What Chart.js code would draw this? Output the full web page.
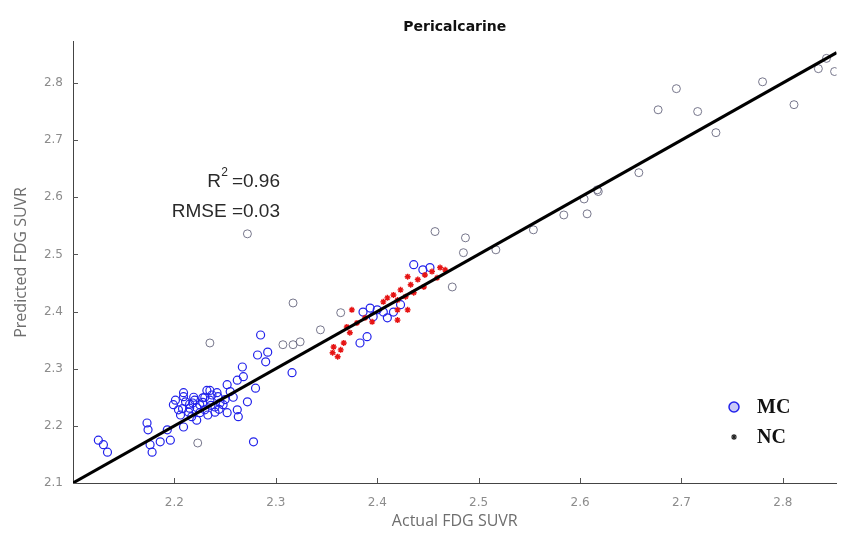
<!DOCTYPE html>
<html>
<head>
<meta charset="utf-8">
<title>Pericalcarine</title>
<script src="https://cdn.jsdelivr.net/npm/chart.js@4/dist/chart.umd.min.js"></script>
<style>
  html, body { margin: 0; padding: 0; background: #fff; }
  #wrap { width: 842px; height: 541px; }
</style>
</head>
<body>
<div id="wrap"><canvas id="scatter"></canvas></div>
<script>
// MC subjects, lower range (blue circles)
const mcActual = [
  2.125, 2.130, 2.134, 2.173, 2.174, 2.176, 2.178, 2.186, 2.193, 2.196,
  2.209, 2.222, 2.209, 2.209, 2.199, 2.204, 2.211, 2.215, 2.220, 2.225,
  2.230, 2.235, 2.240, 2.245, 2.206, 2.214, 2.217, 2.225, 2.233, 2.240,
  2.201, 2.228, 2.237, 2.243, 2.248, 2.252, 2.272, 2.262, 2.263, 2.278,
  2.252, 2.280, 2.262, 2.268, 2.267, 2.290, 2.292, 2.282, 2.285, 2.316,
  2.393, 2.400, 2.406, 2.386, 2.396, 2.416, 2.436, 2.445, 2.452, 2.423,
  2.410, 2.390, 2.383, 2.258, 2.255, 2.235, 2.218, 2.230, 2.215, 2.222,
  2.228, 2.236, 2.244, 2.250, 2.208, 2.219, 2.232, 2.242
];
const mcPredicted = [
  2.175, 2.167, 2.154, 2.205, 2.193, 2.167, 2.154, 2.172, 2.193, 2.175,
  2.198, 2.210, 2.258, 2.251, 2.237, 2.228, 2.242, 2.231, 2.245, 2.237,
  2.228, 2.245, 2.233, 2.240, 2.219, 2.224, 2.216, 2.223, 2.219, 2.224,
  2.245, 2.249, 2.254, 2.251, 2.237, 2.223, 2.242, 2.228, 2.216, 2.172,
  2.272, 2.266, 2.280, 2.286, 2.303, 2.312, 2.329, 2.324, 2.359, 2.293,
  2.406, 2.403, 2.399, 2.399, 2.391, 2.399, 2.482, 2.473, 2.477, 2.412,
  2.389, 2.356, 2.345, 2.250, 2.260, 2.262, 2.240, 2.250, 2.238, 2.232,
  2.241, 2.236, 2.229, 2.246, 2.230, 2.250, 2.262, 2.258
];

// remaining subjects (grey circles, mostly the upper range)
const otherActual = [
  2.235, 2.223, 2.272, 2.307, 2.317, 2.317, 2.324, 2.344, 2.364, 2.457,
  2.474, 2.485, 2.487, 2.517, 2.554, 2.584, 2.604, 2.618, 2.607, 2.617,
  2.658, 2.677, 2.695, 2.716, 2.734, 2.780, 2.811, 2.835, 2.843, 2.851
];
const otherPredicted = [
  2.345, 2.170, 2.536, 2.342, 2.342, 2.415, 2.347, 2.368, 2.398, 2.540,
  2.443, 2.503, 2.529, 2.508, 2.543, 2.569, 2.597, 2.610, 2.571, 2.613,
  2.643, 2.753, 2.790, 2.750, 2.713, 2.802, 2.762, 2.825, 2.843, 2.820
];

// NC subjects (red stars)
const ncActual = [
  2.430, 2.440, 2.433, 2.423, 2.416, 2.410, 2.406, 2.446, 2.436, 2.428,
  2.420, 2.375, 2.420, 2.430, 2.420, 2.357, 2.364, 2.356, 2.361, 2.367,
  2.370, 2.380, 2.373, 2.447, 2.454, 2.462, 2.467, 2.459, 2.388, 2.395
];
const ncPredicted = [
  2.461, 2.456, 2.447, 2.438, 2.429, 2.424, 2.417, 2.443, 2.433, 2.426,
  2.420, 2.403, 2.403, 2.403, 2.385, 2.338, 2.333, 2.328, 2.321, 2.345,
  2.373, 2.380, 2.363, 2.464, 2.470, 2.477, 2.473, 2.459, 2.389, 2.382
];

// identity / fit line end points
const fitX = [2.1, 2.853];
const fitY = [2.1, 2.853];

const xTicks = [2.2, 2.3, 2.4, 2.5, 2.6, 2.7, 2.8];
const yTicks = [2.1, 2.2, 2.3, 2.4, 2.5, 2.6, 2.7, 2.8];

const r2Text = '=0.96';
const rmseText = 'RMSE =0.03';

const toPoints = (xs, ys) => xs.map((x, i) => ({ x: x, y: ys[i] }));

const MC_COLOR = 'rgb(35, 35, 235)';
const OTHER_COLOR = 'rgba(95, 95, 120, 0.85)';
const NC_COLOR = 'rgb(230, 20, 20)';

// inward tick marks, MATLAB style
const innerTicks = {
  id: 'innerTicks',
  afterDatasetsDraw(chart) {
    const { ctx, chartArea, scales } = chart;
    ctx.save();
    ctx.strokeStyle = '#555';
    ctx.lineWidth = 1;
    ctx.beginPath();
    xTicks.forEach(v => {
      const px = Math.round(scales.x.getPixelForValue(v)) + 0.5;
      ctx.moveTo(px, chartArea.bottom);
      ctx.lineTo(px, chartArea.bottom - 5);
    });
    yTicks.forEach(v => {
      const py = Math.round(scales.y.getPixelForValue(v)) + 0.5;
      ctx.moveTo(chartArea.left, py);
      ctx.lineTo(chartArea.left + 5, py);
    });
    ctx.stroke();
    ctx.restore();
  }
};

// R^2 / RMSE text and the bottom-right legend
const annotations = {
  id: 'annotations',
  afterDraw(chart) {
    const { ctx } = chart;
    ctx.save();
    ctx.fillStyle = '#2a2a2a';
    ctx.textBaseline = 'middle';
    ctx.font = '19px "Liberation Sans", Arial, sans-serif';
    ctx.textAlign = 'right';
    const right = 280;
    ctx.fillText(rmseText, right, 212);
    ctx.fillText(r2Text, right, 182);
    const eqW = ctx.measureText(r2Text).width;
    ctx.font = '12px "Liberation Sans", Arial, sans-serif';
    ctx.fillText('2', right - eqW - 4, 173);
    ctx.font = '19px "Liberation Sans", Arial, sans-serif';
    ctx.fillText('R', right - eqW - 11, 182);

    // legend entries use the dataset styles
    const mc = chart.data.datasets[2];
    const nc = chart.data.datasets[1];
    ctx.lineWidth = 1.5;
    ctx.strokeStyle = mc.borderColor;
    ctx.fillStyle = 'rgba(150, 150, 240, 0.5)';
    ctx.beginPath();
    ctx.arc(734, 407, 5, 0, Math.PI * 2);
    ctx.fill();
    ctx.stroke();
    ctx.strokeStyle = '#222';
    ctx.lineWidth = 1.2;
    Chart.helpers.drawPoint(ctx, { pointStyle: nc.pointStyle, radius: 3, borderWidth: 1.2 }, 734, 437);

    ctx.fillStyle = '#111';
    ctx.textAlign = 'left';
    ctx.font = 'bold 20px "Liberation Serif", "Times New Roman", serif';
    ctx.fillText('MC', 757, 408);
    ctx.fillText('NC', 757, 438);
    ctx.restore();
  }
};

const tickFont = { family: '"DejaVu Sans", sans-serif', size: 12 };
const titleFont = { family: '"Open Sans", sans-serif', size: 16 };

new Chart(document.getElementById('scatter'), {
  type: 'scatter',
  data: {
    datasets: [
      {
        type: 'line',
        label: 'fit',
        data: toPoints(fitX, fitY),
        borderColor: '#000',
        borderWidth: 3,
        pointRadius: 0,
        fill: false,
        order: 0
      },
      {
        label: 'NC',
        data: toPoints(ncActual, ncPredicted),
        pointStyle: 'star',
        radius: 3,
        borderColor: NC_COLOR,
        backgroundColor: NC_COLOR,
        borderWidth: 1.4,
        order: 1
      },
      {
        label: 'MC',
        data: toPoints(mcActual, mcPredicted),
        pointStyle: 'circle',
        radius: 4,
        borderColor: MC_COLOR,
        backgroundColor: 'rgba(0,0,0,0)',
        borderWidth: 1.2,
        order: 2
      },
      {
        label: 'other',
        data: toPoints(otherActual, otherPredicted),
        pointStyle: 'circle',
        radius: 4,
        borderColor: OTHER_COLOR,
        backgroundColor: 'rgba(0,0,0,0)',
        borderWidth: 1,
        order: 3
      }
    ]
  },
  options: {
    responsive: true,
    maintainAspectRatio: false,
    animation: false,
    events: [],
    layout: { padding: 0 },
    plugins: {
      legend: { display: false },
      tooltip: { enabled: false },
      title: {
        display: true,
        text: 'Pericalcarine',
        fullSize: false,
        color: '#111',
        font: { family: '"DejaVu Sans", sans-serif', size: 14, weight: 'bold' },
        padding: { top: 19, bottom: 6 }
      }
    },
    scales: {
      x: {
        type: 'linear',
        min: 2.1,
        max: 2.853,
        afterFit: (scale) => { scale.height = 58; },
        afterBuildTicks: (scale) => { scale.ticks = xTicks.map(v => ({ value: v })); },
        border: { display: true, color: '#444', width: 1 },
        grid: { drawOnChartArea: false, drawTicks: false },
        ticks: {
          color: '#8c8c8c',
          font: tickFont,
          padding: 13,
          maxRotation: 0,
          callback: (v) => v.toFixed(1)
        },
        title: {
          display: true,
          text: 'Actual FDG SUVR',
          color: '#6e6e6e',
          font: titleFont,
          padding: { top: 0, bottom: 10 }
        }
      },
      y: {
        type: 'linear',
        min: 2.1,
        max: 2.872,
        afterFit: (scale) => { scale.width = 73; },
        afterBuildTicks: (scale) => { scale.ticks = yTicks.map(v => ({ value: v })); },
        border: { display: true, color: '#444', width: 1 },
        grid: { drawOnChartArea: false, drawTicks: false },
        ticks: {
          color: '#8c8c8c',
          font: tickFont,
          padding: 10,
          callback: (v) => v.toFixed(1)
        },
        title: {
          display: true,
          text: 'Predicted FDG SUVR',
          color: '#6e6e6e',
          font: titleFont,
          padding: { top: 12, bottom: 0 }
        }
      }
    }
  },
  plugins: [innerTicks, annotations]
});
</script>
</body>
</html>
